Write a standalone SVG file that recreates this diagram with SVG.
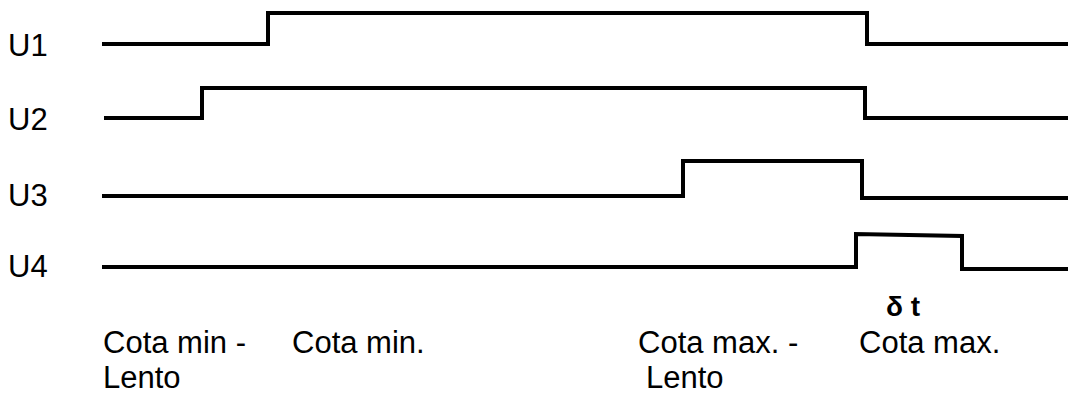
<svg xmlns="http://www.w3.org/2000/svg" width="1070" height="396" viewBox="0 0 1070 396">
<style>
.sig{fill:none;stroke:#000;stroke-width:4;stroke-linejoin:miter;stroke-linecap:butt}
.lbl{font-family:"Liberation Sans",Arial,sans-serif;font-size:31px;fill:#000}
.dt{font-family:"Liberation Sans",Arial,sans-serif;font-size:28px;font-weight:bold;fill:#000}
</style>
<rect width="1070" height="396" fill="#fff"/>
<g id="labels">
<g id="U1"><text class="lbl" x="8" y="56">U1</text></g>
<g id="U2"><text class="lbl" x="8" y="130">U2</text></g>
<g id="U3"><text class="lbl" x="8" y="206">U3</text></g>
<g id="U4"><text class="lbl" x="8" y="277">U4</text></g>
</g>
<g id="connectors">
<polyline class="sig" points="102,44 268,44 268,13 867,13 867,44 1068,44"/>
<polyline class="sig" points="104,118 202,118 202,88 865,88 865,118 1068,118"/>
<polyline class="sig" points="102,196 683,196 683,161 862,161 862,198 1068,198"/>
<polyline class="sig" points="102,267 856,267 856,234 962,236 962,269 1068,269"/>
</g>
<g id="bottom-labels">
<g id="cota-min-lento"><text class="lbl" x="103" y="353">Cota min -</text><text class="lbl" x="103" y="388">Lento</text></g>
<g id="cota-min"><text class="lbl" x="292" y="353">Cota min.</text></g>
<g id="cota-max-lento"><text class="lbl" x="638" y="353">Cota max. -</text><text class="lbl" x="646" y="388">Lento</text></g>
<g id="dt"><text class="dt" x="886" y="316">δ t</text></g>
<g id="cota-max"><text class="lbl" x="859" y="353">Cota max.</text></g>
</g>
</svg>
